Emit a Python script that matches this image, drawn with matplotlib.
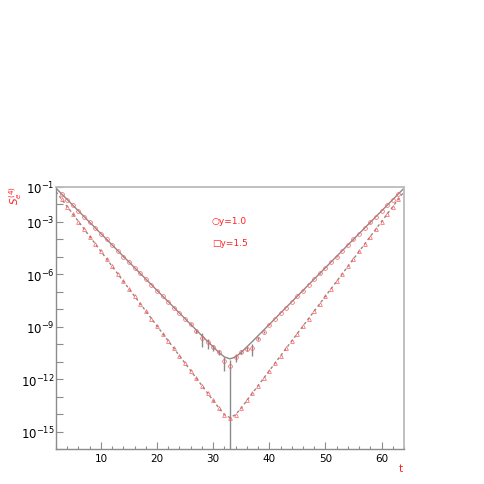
import numpy as np
import matplotlib
matplotlib.use('Agg')
import matplotlib.pyplot as plt
from matplotlib.ticker import FixedLocator, MultipleLocator, NullFormatter

# time slices of the data points
t = np.arange(3, 64)

# log10 of the correlator, y=1.0 (circles) and y=1.5 (triangles)
logc_y10 = [-1.40, -1.73, -2.05, -2.38, -2.70, -3.03, -3.35, -3.68, -4.00, -4.33,
            -4.65, -4.98, -5.30, -5.63, -5.95, -6.28, -6.60, -6.93, -7.25, -7.58,
            -7.90, -8.23, -8.55, -8.85, -9.25, -9.62, -9.90, -10.18, -10.45, -10.95,
            -11.27,
            -10.73, -10.42, -10.26, -10.20, -9.68, -9.28, -8.88, -8.56, -8.22, -7.91,
            -7.58, -7.26, -6.93, -6.60, -6.28, -5.95, -5.63, -5.30, -4.98, -4.65,
            -4.33, -4.00, -3.68, -3.35, -3.03, -2.70, -2.38, -2.05, -1.73, -1.40]
logc_y15 = [-1.70, -2.13, -2.55, -2.98, -3.41, -3.84, -4.26, -4.69, -5.12, -5.54,
            -5.97, -6.40, -6.82, -7.25, -7.68, -8.11, -8.53, -8.96, -9.39, -9.81,
            -10.24, -10.67, -11.09, -11.52, -11.95, -12.37, -12.80, -13.22, -13.65, -14.03,
            -14.21,
            -14.03, -13.65, -13.22, -12.80, -12.37, -11.95, -11.52, -11.09, -10.67, -10.24,
            -9.81, -9.39, -8.96, -8.53, -8.11, -7.68, -7.25, -6.82, -6.40, -5.97,
            -5.54, -5.12, -4.69, -4.26, -3.84, -3.41, -2.98, -2.55, -2.13, -1.70]

# relative errors of the y=1.0 points (only the middle ones are visible)
relerr_y10 = [0.02] * 23 + [0.15, 0.20, 0.72, 0.60, 0.35, 0.30, 0.75, 1.30,
                            0.50, 0.25, 0.30, 0.68, 0.20, 0.15] + [0.02] * 24

# fit curves (log10)
t_fit = [2, 8, 14, 20, 26, 29, 31, 32, 33, 34, 35, 37, 40, 46, 52, 58, 64]
logfit_y10 = [-1.07, -3.02, -4.97, -6.92, -8.87, -9.84, -10.47, -10.73, -10.84,
              -10.73, -10.47, -9.84, -8.87, -6.92, -4.97, -3.02, -1.07]
logfit_y15 = [-1.27, -3.83, -6.40, -8.96, -11.52, -12.80, -13.65, -14.03, -14.21,
              -14.03, -13.65, -12.80, -11.52, -8.96, -6.40, -3.83, -1.27]

legend_labels = ['\u25cby=1.0', '\u25a1y=1.5']

c10 = 10.0 ** np.array(logc_y10)
c15 = 10.0 ** np.array(logc_y15)
rel = np.array(relerr_y10)
low = c10 - np.maximum(c10 * (1 - rel), 1e-30)
high = c10 * rel

fig = plt.figure(figsize=(4.85, 4.85), dpi=100, facecolor='w')
ax = fig.add_axes([0.1155, 0.0722, 0.7175, 0.5402])
ax.set_yscale('log')

ax.plot(t_fit, 10.0 ** np.array(logfit_y10), color='#8a8a8a', lw=1.0, zorder=1)
ax.plot(t_fit, 10.0 ** np.array(logfit_y15), color='#8a8a8a', lw=1.0,
        linestyle=(0, (2, 2)), zorder=1)

ax.errorbar(t, c10, yerr=[low, high], fmt='none', ecolor='#8a8a8a', elinewidth=1.0,
            capsize=0, zorder=2)
ax.plot(t, c10, linestyle='none', marker='o', markersize=2.7, markerfacecolor='none',
        markeredgecolor='#ff5a5a', markeredgewidth=0.5, zorder=3)
ax.plot(t, c15, linestyle='none', marker='^', markersize=2.7, markerfacecolor='none',
        markeredgecolor='#ff5a5a', markeredgewidth=0.5, zorder=3)

ax.set_xlim(2, 64)
ax.set_ylim(1e-16, 1e-1)

for s in ['top', 'right']:
    ax.spines[s].set_color('#bbbbbb')
    ax.spines[s].set_linewidth(1.3)
for s in ['left', 'bottom']:
    ax.spines[s].set_color('#8c8c8c')
    ax.spines[s].set_linewidth(1.0)

ax.xaxis.set_major_locator(MultipleLocator(10))
ax.xaxis.set_minor_locator(MultipleLocator(2))
ax.tick_params(axis='x', which='major', direction='in', length=5, width=0.8,
               color='#8c8c8c', labelsize=7.5, pad=3)
ax.tick_params(axis='x', which='minor', direction='in', length=2.5, width=0.8,
               color='#8c8c8c')

decades = np.arange(-16, 0)
labelled = [-1, -3, -6, -9, -12, -15]
ax.yaxis.set_major_locator(FixedLocator(10.0 ** decades))
ax.yaxis.set_minor_locator(FixedLocator([]))
ax.yaxis.set_minor_formatter(NullFormatter())
ax.set_yticklabels(['$10^{%d}$' % d if d in labelled else '' for d in decades])
ax.tick_params(axis='y', which='major', direction='in', length=5, width=0.8,
               color='#8c8c8c', labelsize=8.5, pad=1)
ax.tick_params(top=False, right=False)

fig.text(212 / 485, 1 - 222 / 485, legend_labels[0], color='#ff2020', fontsize=6.5,
         va='center', ha='left')
fig.text(212 / 485, 1 - 244 / 485, legend_labels[1], color='#ff2020', fontsize=6.5,
         va='center', ha='left')

fig.text(16 / 485, 1 - 196 / 485, r'$S^{(4)}_{e}$', color='#ff2020', fontsize=7.5,
         rotation=90, va='center', ha='center')
fig.text(401 / 485, 1 - 469 / 485, 't', color='#ff2020', fontsize=7.5,
         va='center', ha='center')

fig.savefig('out.png', dpi=100)
